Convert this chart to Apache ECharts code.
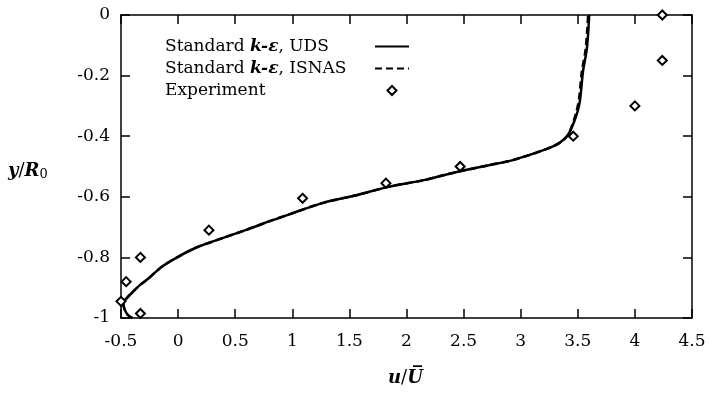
<!DOCTYPE html>
<html>
<head>
<meta charset="utf-8">
<style>
  html, body { margin: 0; padding: 0; background: #fff; }
  #chart { width: 709px; height: 394px; }
</style>
<script src="https://cdn.jsdelivr.net/npm/echarts@6/dist/echarts.min.js"></script>
</head>
<body>
<div id="chart"></div>
<script>
// Axis ticks
var xTicks = [-0.5, 0, 0.5, 1, 1.5, 2, 2.5, 3, 3.5, 4, 4.5];
var yTicks = [-1, -0.8, -0.6, -0.4, -0.2, 0];

// Standard k-eps with upwind differencing: [u/U, y/R0]
var udsCurve = [
  [-0.40, -1.00], [-0.44, -0.99], [-0.47, -0.97], [-0.48, -0.95], [-0.45, -0.935],
  [-0.40, -0.915], [-0.33, -0.89], [-0.255, -0.868], [-0.14, -0.83], [0.00, -0.798],
  [0.15, -0.769], [0.30, -0.748], [0.59, -0.71], [0.82, -0.678], [0.98, -0.657],
  [1.27, -0.62], [1.57, -0.594], [1.83, -0.568], [2.15, -0.545], [2.44, -0.518],
  [2.73, -0.495], [2.93, -0.479], [3.23, -0.442], [3.34, -0.422], [3.41, -0.398],
  [3.46, -0.360], [3.50, -0.316], [3.52, -0.28], [3.545, -0.188], [3.58, -0.109],
  [3.60, 0.00]
];

// Standard k-eps with ISNAS scheme
var isnasCurve = [
  [-0.40, -1.00], [-0.44, -0.99], [-0.47, -0.97], [-0.48, -0.95], [-0.45, -0.935],
  [-0.40, -0.915], [-0.33, -0.89], [-0.255, -0.868], [-0.14, -0.83], [0.00, -0.798],
  [0.15, -0.769], [0.30, -0.748], [0.59, -0.71], [0.82, -0.678], [0.98, -0.657],
  [1.27, -0.62], [1.57, -0.594], [1.83, -0.568], [2.15, -0.545], [2.44, -0.518],
  [2.73, -0.495], [2.93, -0.479], [3.23, -0.442], [3.34, -0.422], [3.41, -0.398],
  [3.455, -0.360], [3.49, -0.316], [3.51, -0.28], [3.535, -0.188], [3.57, -0.109],
  [3.59, 0.00]
];

// Measured profile
var experiment = [
  [4.24, 0.00], [4.24, -0.15], [4.00, -0.30], [3.46, -0.40], [2.47, -0.50],
  [1.82, -0.555], [1.09, -0.605], [0.27, -0.71], [-0.33, -0.80], [-0.455, -0.88],
  [-0.50, -0.945], [-0.33, -0.985]
];

var FONT = 'DejaVu Serif';
var chart = echarts.init(document.getElementById('chart'), null, { renderer: 'canvas' });

function tickFormatter(ticks) {
  return function (v) {
    for (var i = 0; i < ticks.length; i++) {
      if (Math.abs(ticks[i] - v) < 1e-9) return String(ticks[i]);
    }
    return '';
  };
}

function baseAxis(ticks, extra) {
  var o = {
    type: 'value',
    min: ticks[0],
    max: ticks[ticks.length - 1],
    interval: ticks[1] - ticks[0],
    splitLine: { show: false },
    axisLine: { show: true, onZero: false, lineStyle: { color: '#000', width: 1.5 } },
    axisTick: { show: true, inside: true, length: 9, lineStyle: { color: '#000', width: 1.5 } }
  };
  for (var k in extra) o[k] = extra[k];
  return o;
}

var labelStyle = { color: '#000', fontFamily: FONT, fontSize: 17 };
var hiddenSymbol = { opacity: 0 };
var leftTok = { fontFamily: FONT, fontSize: 17, color: '#000', align: 'left' };
var italTok = { fontFamily: FONT, fontSize: 17, color: '#000', align: 'left', fontStyle: 'italic', fontWeight: 'bold' };
// small diamond centred in a 34x9 legend slot
var diamondIcon = 'path://M0,0M34,9M12.5,4.5L17,0L21.5,4.5L17,9Z';

chart.setOption({
  animation: false,
  backgroundColor: '#fff',
  grid: { left: 121, right: 17, top: 15, bottom: 76, containLabel: false },
  xAxis: [
    baseAxis(xTicks, {
      position: 'bottom',
      axisLabel: Object.assign({ margin: 15, formatter: tickFormatter(xTicks) }, labelStyle)
    }),
    baseAxis(xTicks, { position: 'top', axisLabel: { show: false } })
  ],
  yAxis: [
    baseAxis(yTicks, {
      position: 'left',
      axisLabel: Object.assign({ margin: 11, formatter: tickFormatter(yTicks) }, labelStyle)
    }),
    baseAxis(yTicks, { position: 'right', axisLabel: { show: false } })
  ],
  legend: {
    orient: 'vertical',
    left: 160,
    top: 33,
    align: 'right',
    itemGap: 5,
    itemWidth: 34,
    itemHeight: 9,
    data: [
      { name: 'UDS', itemStyle: hiddenSymbol },
      { name: 'ISNAS', itemStyle: hiddenSymbol },
      { name: 'Experiment', icon: diamondIcon, itemStyle: { color: '#fff', borderColor: '#000', borderWidth: 2 } }
    ],
    formatter: function (name) {
      if (name === 'Experiment') return '{a|Experiment}';
      return '{a|Standard }{i|k-ε}{a|, ' + name + '}';
    },
    textStyle: {
      color: '#000', fontFamily: FONT, fontSize: 17, width: 205,
      rich: { a: leftTok, i: italTok }
    }
  },
  graphic: [
    {
      type: 'text', left: 8, top: 162,
      style: {
        text: '{i|y}{n|/}{i|R}{s|0}',
        rich: {
          i: { fontFamily: FONT, fontSize: 18, fontStyle: 'italic', fontWeight: 'bold', fill: '#000' },
          n: { fontFamily: FONT, fontSize: 18, fill: '#000' },
          s: { fontFamily: FONT, fontSize: 13, fill: '#000', verticalAlign: 'bottom', padding: [8, 0, 0, 0] }
        }
      }
    },
    {
      type: 'text', left: 388, top: 369,
      style: {
        text: '{i|u}{n|/}{i|U\u0305}',
        rich: {
          i: { fontFamily: FONT, fontSize: 18, fontStyle: 'italic', fontWeight: 'bold', fill: '#000' },
          n: { fontFamily: FONT, fontSize: 18, fill: '#000' }
        }
      }
    }
  ],
  series: [
    {
      name: 'UDS', type: 'line', data: udsCurve, smooth: 0.3,
      symbol: 'none', xAxisIndex: 0, yAxisIndex: 0, z: 2,
      lineStyle: { color: '#000', width: 2.5, type: 'solid' },
      itemStyle: { color: '#000' }
    },
    {
      name: 'ISNAS', type: 'line', data: isnasCurve, smooth: 0.3,
      symbol: 'none', xAxisIndex: 0, yAxisIndex: 0, z: 3,
      lineStyle: { color: '#000', width: 2.5, type: [7, 4] },
      itemStyle: { color: '#000' }
    },
    {
      name: 'Experiment', type: 'scatter', data: experiment,
      symbol: 'diamond', symbolSize: 9, symbolKeepAspect: true,
      xAxisIndex: 0, yAxisIndex: 0, z: 5,
      itemStyle: { color: '#fff', borderColor: '#000', borderWidth: 2, opacity: 1 }
    }
  ]
});
</script>
</body>
</html>
